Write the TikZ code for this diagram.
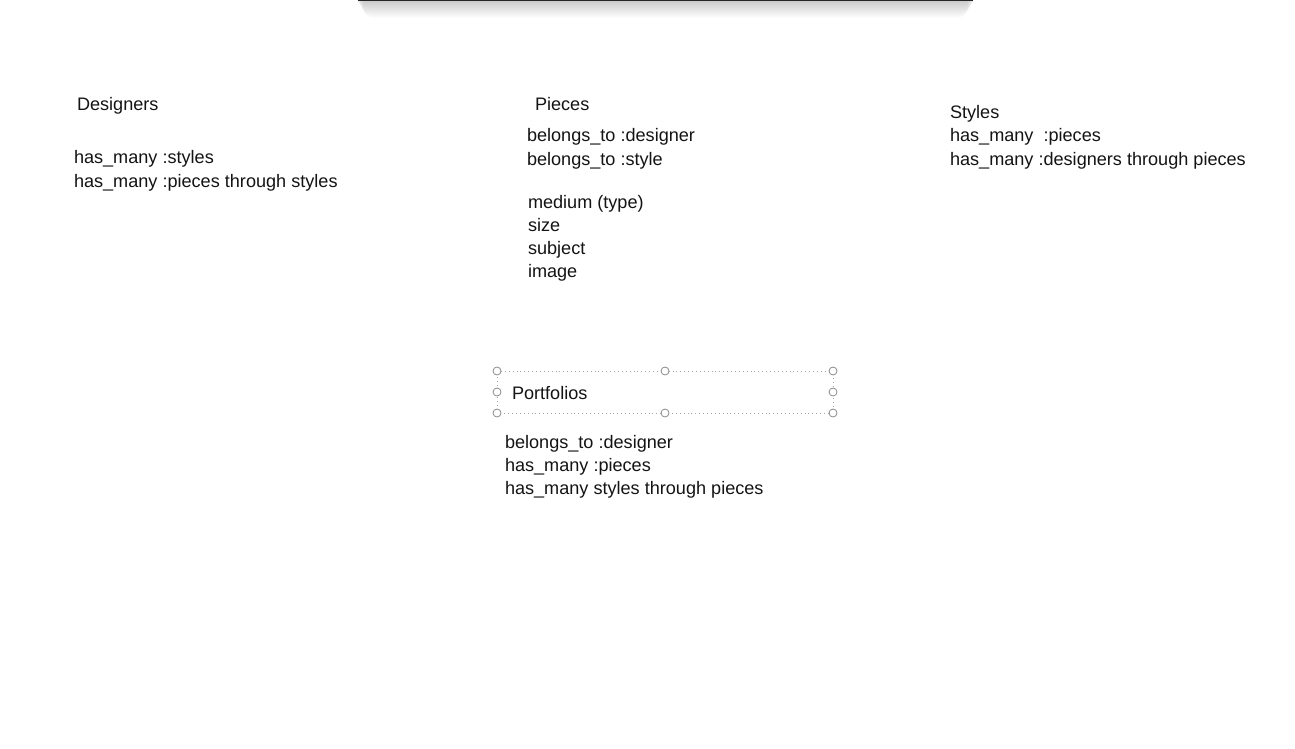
\documentclass[tikz,border=0pt]{standalone}
\usepackage{fontspec}
\setmainfont{Liberation Sans}
\begin{document}
\begin{tikzpicture}[x=1pt,y=-1pt,
  txt/.style={anchor=base west,inner sep=0pt,outer sep=0pt,font=\fontsize{18.1}{23}\selectfont,text=black!92},
  selline/.style={draw=black!35,line width=0.9pt,dash pattern=on 0.9pt off 3pt},
  handle/.style={circle,draw=black!45,fill=white,line width=0.8pt,minimum size=8pt,inner sep=0pt}]
\useasboundingbox[fill=white] (0,0) rectangle (1295,749);
% toolbar shadow at the top
\foreach \i in {1,...,18}{
  \fill[black,opacity=0.011,rounded corners=10pt] (364-\i*0.6,-12) rectangle (967+\i*0.6,19-\i);
}
\fill[black!85] (358,-1) rectangle (973,1.2);
% Designers
\node[txt] (d0) at (77,111) {Designers};
\node[txt] (d1) at (74,164) {has\_many :styles};
\node[txt] (d2) at (74,187) {has\_many :pieces through styles};
% Pieces
\node[txt] (p0) at (535,111) {Pieces};
\node[txt] (p1) at (527,142) {belongs\_to :designer};
\node[txt] (p2) at (527,165) {belongs\_to :style};
\node[txt] (p3) at (528,208) {medium (type)};
\node[txt] (p4) at (528,231) {size};
\node[txt] (p5) at (528,254) {subject};
\node[txt] (p6) at (528,277) {image};
% Styles
\node[txt] (s0) at (950,119) {Styles};
\node[txt] (s1) at (950,142) {has\_many~ :pieces};
\node[txt] (s2) at (950,165) {has\_many :designers through pieces};
% Portfolios selection
\coordinate (tl) at (497,371);
\coordinate (tr) at (833,371);
\coordinate (bl) at (497,413);
\coordinate (br) at (833,413);
\draw[selline] (tl) -- (tr) -- (br) -- (bl) -- cycle;
\node[handle] (h1) at (tl) {};
\node[handle] (h2) at (665,371) {};
\node[handle] (h3) at (tr) {};
\node[handle] (h4) at (497,392) {};
\node[handle] (h5) at (833,392) {};
\node[handle] (h6) at (bl) {};
\node[handle] (h7) at (665,413) {};
\node[handle] (h8) at (br) {};
\node[txt] (f0) at (512,399) {Portfolios};
\node[txt] (f1) at (505,448) {belongs\_to :designer};
\node[txt] (f2) at (505,471) {has\_many :pieces};
\node[txt] (f3) at (505,494) {has\_many styles through pieces};
\end{tikzpicture}
\end{document}
